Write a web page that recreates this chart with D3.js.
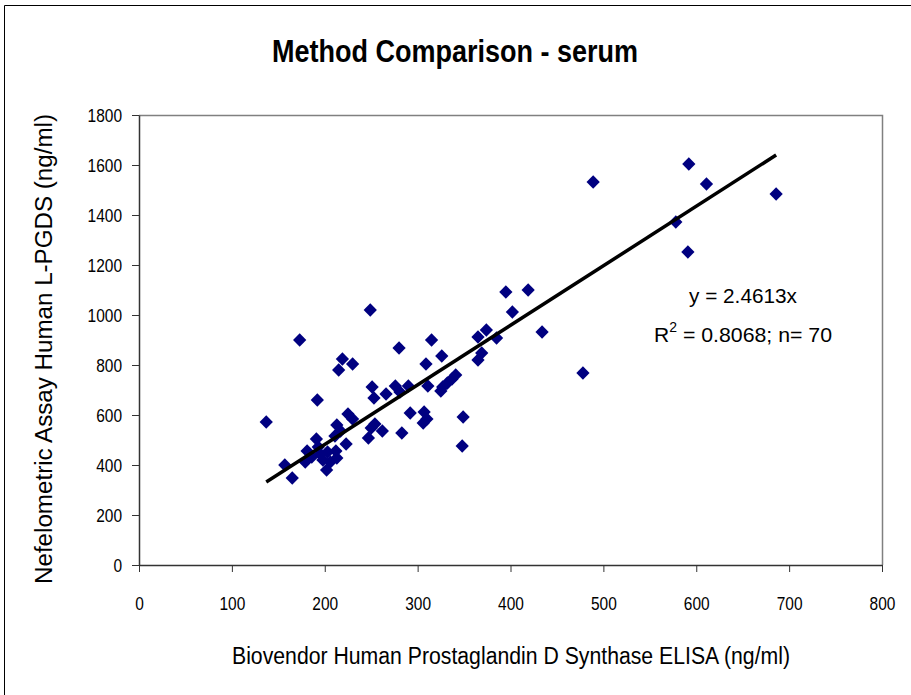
<!DOCTYPE html>
<html>
<head>
<meta charset="utf-8">
<script src="https://cdn.jsdelivr.net/npm/d3@7"></script>
<style>
  body { margin: 0; background: #fff; }
  svg text { font-family: "Liberation Sans", Arial, sans-serif; }
</style>
</head>
<body>
<svg id="chart" width="911" height="695"></svg>
<script>
// ELISA (x) vs nefelometric (y), ng/ml
var elisa = [137, 157, 165, 173, 179, 181, 186, 191, 192, 195, 198, 202, 203, 211,
  212, 213, 213, 215, 217, 219, 223, 225, 230, 230, 247, 250, 249, 254, 262, 251,
  253, 266, 276, 281, 290, 280, 283, 292, 307, 310, 306, 311, 309, 315, 326, 327,
  332, 337, 341, 325, 349, 348, 365, 369, 365, 374, 385, 395, 419, 402, 434, 489,
  478, 578, 591, 592, 611, 686, 206, 193];
var nefelo = [572, 400, 348, 900, 412, 456, 432, 504, 660, 444, 420, 380, 452, 516,
  456, 428, 560, 780, 536, 824, 484, 604, 804, 584, 508, 548, 1020, 564, 536, 712,
  668, 684, 716, 692, 716, 868, 528, 608, 612, 584, 568, 716, 804, 900, 836, 712,
  728, 744, 760, 696, 592, 476, 820, 848, 912, 940, 908, 1092, 1100, 1012, 932, 1532,
  768, 1372, 1252, 1604, 1524, 1484, 412, 472];
// trend line ends as drawn in the picture
var trendX = [137, 686];
var trendY = [332, 1640];
var xTicks = [0, 100, 200, 300, 400, 500, 600, 700, 800];
var yTicks = [0, 200, 400, 600, 800, 1000, 1200, 1400, 1600, 1800];

var svg = d3.select("#chart");
var pLeft = 139, pTop = 115, pRight = 882, pBottom = 565;

var x = d3.scaleLinear().domain([0, 800]).range([pLeft, pRight]);
var y = d3.scaleLinear().domain([0, 1800]).range([pBottom, pTop]);

// outer frame
svg.append("path")
  .attr("d", "M4.5,695V5.5H911")
  .attr("fill", "none").attr("stroke", "#000").attr("stroke-width", 1);

svg.append("text")
  .attr("x", 455).attr("y", 62)
  .attr("text-anchor", "middle")
  .attr("font-size", "31px").attr("font-weight", "bold")
  .attr("textLength", 366).attr("lengthAdjust", "spacingAndGlyphs")
  .text("Method Comparison - serum");

// plot box top & right
svg.append("path")
  .attr("d", "M" + pLeft + "," + (pTop + 0.5) + "H" + (pRight + 0.5) + "V" + pBottom)
  .attr("fill", "none").attr("stroke", "#808080").attr("stroke-width", 1.5);

var xAxis = svg.append("g")
  .attr("transform", "translate(0," + pBottom + ")")
  .call(d3.axisBottom(x).tickValues(xTicks).tickSize(7).tickPadding(25).tickSizeOuter(0)
    .tickFormat(d3.format("d")));
var yAxis = svg.append("g")
  .attr("transform", "translate(" + pLeft + ",0)")
  .call(d3.axisLeft(y).tickValues(yTicks).tickSize(7).tickPadding(10).tickSizeOuter(0)
    .tickFormat(d3.format("d")));

[xAxis, yAxis].forEach(function(g) {
  g.select(".domain").attr("stroke", "#333").attr("stroke-width", 1.5);
  g.selectAll(".tick line").attr("stroke", "#333");
  g.selectAll("text").attr("font-size", "19px").attr("fill", "#000")
    .attr("font-family", "'Liberation Sans', Arial, sans-serif")
    .attr("lengthAdjust", "spacingAndGlyphs")
    .attr("textLength", function(d) { return String(d).length * 8.6; });
});

var pts = elisa.map(function(d, i) { return [d, nefelo[i]]; });

svg.append("g").selectAll("path")
  .data(pts)
  .enter().append("path")
  .attr("d", d3.symbol().type(d3.symbolSquare).size(88))
  .attr("transform", function(d) { return "translate(" + x(d[0]) + "," + y(d[1]) + ") rotate(45)"; })
  .attr("fill", "#000080");

svg.append("line")
  .attr("x1", x(trendX[0])).attr("y1", y(trendY[0]))
  .attr("x2", x(trendX[1])).attr("y2", y(trendY[1]))
  .attr("stroke", "#000").attr("stroke-width", 3.5);

var ann = svg.append("g").attr("font-size", "21px");
ann.append("text").attr("x", 743).attr("y", 303).attr("text-anchor", "middle")
  .attr("textLength", 108).attr("lengthAdjust", "spacingAndGlyphs")
  .text("y = 2.4613x");
var r2 = ann.append("text").attr("x", 654).attr("y", 342);
r2.append("tspan").text("R");
r2.append("tspan").attr("dy", -10).attr("font-size", "14px").text("2");
r2.append("tspan").attr("dy", 10).attr("textLength", 155).attr("lengthAdjust", "spacingAndGlyphs")
  .text(" = 0.8068; n= 70");

svg.append("text")
  .attr("x", 511).attr("y", 664)
  .attr("text-anchor", "middle").attr("font-size", "23px")
  .attr("textLength", 558).attr("lengthAdjust", "spacingAndGlyphs")
  .text("Biovendor Human Prostaglandin D Synthase ELISA (ng/ml)");

svg.append("text")
  .attr("transform", "translate(52,349) rotate(-90)")
  .attr("text-anchor", "middle").attr("font-size", "23px")
  .attr("textLength", 470).attr("lengthAdjust", "spacingAndGlyphs")
  .text("Nefelometric Assay Human L-PGDS (ng/ml)");
</script>
</body>
</html>
